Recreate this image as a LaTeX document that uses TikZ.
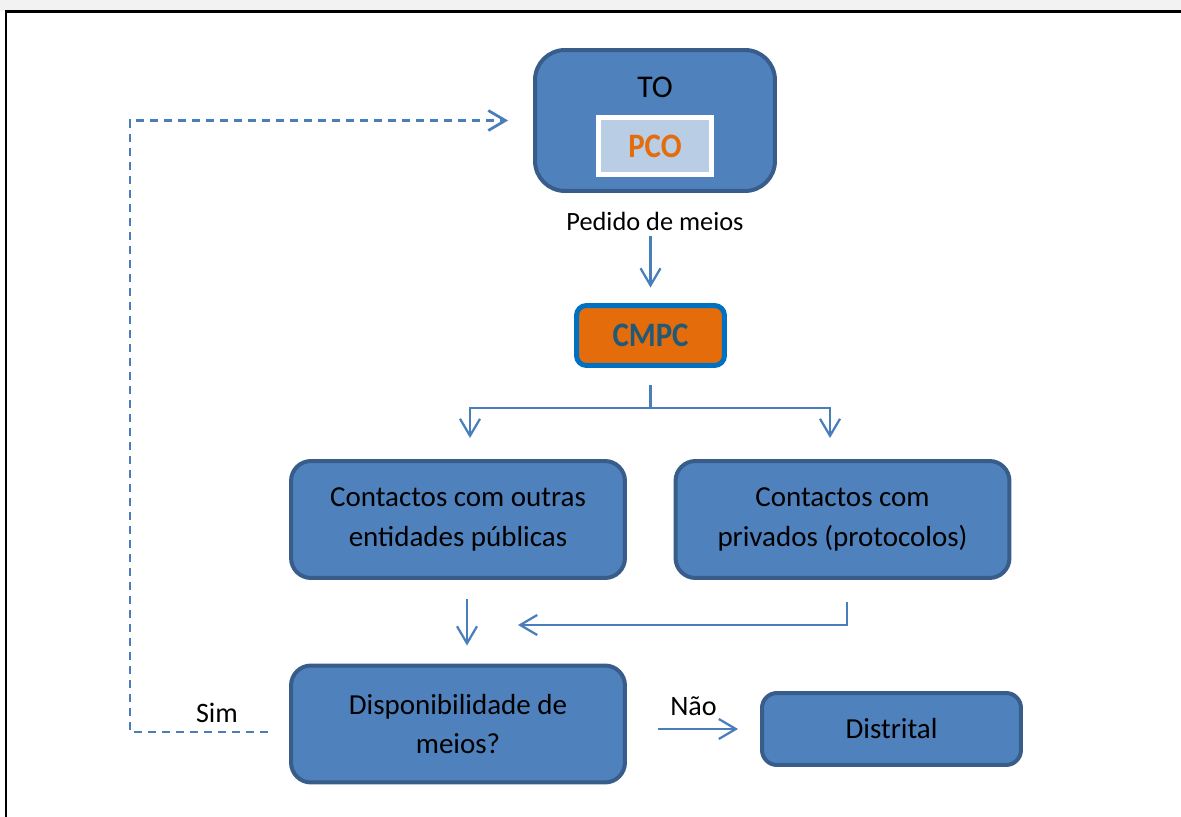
\documentclass[tikz,border=0pt]{standalone}
\usepackage{fontspec}
\setmainfont{Carlito}
\usetikzlibrary{arrows.meta,positioning}
\definecolor{caixafill}{RGB}{79,129,189}
\definecolor{caixaline}{RGB}{56,93,138}
\definecolor{setacor}{RGB}{74,126,187}
\definecolor{pcofill}{RGB}{185,205,229}
\definecolor{laranja}{RGB}{228,108,10}
\definecolor{cmpcline}{RGB}{0,112,192}
\definecolor{cmpctext}{RGB}{33,89,118}
\tikzset{
  caixa/.style={draw=caixaline,fill=caixafill,line width=0.08cm,rounded corners=0.4cm,
    align=center,font=\fontsize{16.5}{22.5}\selectfont},
  linha/.style={draw=setacor,line width=0.045cm},
  seta/.style={linha,-{Straight Barb[length=0.34cm,width=0.4cm]}},
  tracejado/.style={line width=0.055cm,dash pattern=on 0.16cm off 0.12cm},
  rotulo/.style={font=\fontsize{16}{20}\selectfont},
  negrito/.style={font=\bfseries\fontsize{19.5}{22}\selectfont}
}

\begin{document}
\begin{tikzpicture}[x=0.02cm,y=-0.02cm]
\useasboundingbox (0,0) rectangle (1181,817);
\fill[black!5] (0,0) rectangle (1181,11);
\draw[line width=0.06cm] (5,12) -- (1181,12);
\draw[line width=0.04cm] (6,12) -- (6,817);

\node[caixa,minimum width=4.8cm,minimum height=2.82cm,rounded corners=0.6cm] (to) at (655,120.5) {};
\node[font=\fontsize{18}{20}\selectfont] (tolbl) at (655,87) {TO};
\node[draw=white,fill=pcofill,line width=0.1cm,minimum width=2.26cm,minimum height=1.14cm,
  text=laranja,negrito] (pco) at (655,146) {\scalebox{0.9}[1]{PCO}};
\node[font=\fontsize{15}{18}\selectfont] (pedido) at (655,221) {Pedido de meios};
\node[draw=cmpcline,fill=laranja,line width=0.1cm,rounded corners=0.2cm,minimum width=2.96cm,
  minimum height=1.2cm,text=cmpctext,negrito] (cmpc) at (650.5,335.5) {\scalebox{0.9}[1]{CMPC}};
\node[caixa,minimum width=6.68cm,minimum height=2.34cm] (pub) at (458,519.5) {Contactos com outras\\entidades públicas};
\node[caixa,minimum width=6.68cm,minimum height=2.34cm] (priv) at (842.5,519.5) {Contactos com\\privados (protocolos)};
\node[caixa,minimum width=6.68cm,minimum height=2.34cm] (disp) at (458,724) {Disponibilidade de\\meios?};
\node[caixa,minimum width=5.18cm,minimum height=1.44cm,rounded corners=0.3cm] (dist) at (891.5,729) {Distrital};
\node[rotulo] (sim) at (217,713) {Sim};
\coordinate (split) at (650.5,408);
\coordinate (merge) at (518,625);

\draw[seta,shorten >=0.31cm] (cmpc.north |- pedido.south) -- (cmpc.north);
\draw[linha,shorten <=0.35cm] (cmpc.south) -- (split);
\draw[seta,shorten >=0.42cm] (split) -| ([xshift=0.24cm]pub.north);
\draw[seta,shorten >=0.42cm] (split) -| ([xshift=-0.25cm]priv.north);
\draw[seta,shorten <=0.38cm,shorten >=0.36cm] ([xshift=0.18cm]pub.south) -- ([xshift=0.18cm]disp.north);
\draw[seta,shorten <=0.44cm] ([xshift=0.09cm]priv.south) |- (merge);
\draw[seta,shorten <=0.62cm,shorten >=0.44cm] (disp.east |- dist.west) -- node[rotulo,above=0.12cm] (nao) {Não} (dist.west);
\draw[seta,tracejado,shorten <=0.42cm,shorten >=0.5cm] ([yshift=-0.16cm]disp.west) -- ++(-159,0) |- (to.west);
\end{tikzpicture}
\end{document}
